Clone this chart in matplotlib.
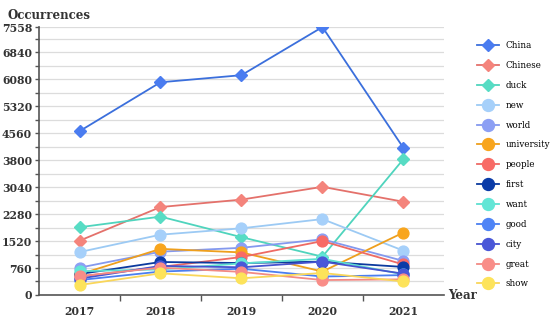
import numpy as np
import matplotlib.pyplot as plt
from matplotlib.ticker import MultipleLocator, FixedLocator

plt.rcParams['font.family'] = ['DejaVu Serif']

years = ["2017", "2018", "2019", "2020", "2021"]

china = [4620, 6000, 6200, 7558, 4150]
chinese = [1530, 2480, 2690, 3050, 2630]
duck = [1910, 2210, 1630, 1080, 3830]
new = [1210, 1700, 1880, 2140, 1250]
world = [770, 1220, 1330, 1570, 960]
university = [580, 1300, 1200, 660, 1760]
people = [520, 790, 1070, 1520, 860]
first = [590, 930, 900, 940, 790]
want = [670, 720, 890, 1020, 580]
good = [420, 660, 740, 520, 560]
city = [460, 820, 780, 940, 600]
great = [530, 770, 650, 420, 440]
show = [280, 610, 470, 620, 380]

words = ["China", "Chinese", "duck", "new", "world", "university", "people",
         "first", "want", "good", "city", "great", "show"]
series = [china, chinese, duck, new, world, university, people,
          first, want, good, city, great, show]
line_colors = ["#3b6fdc", "#e4716b", "#4fd4bd", "#9ccaf4", "#8499ee", "#ee9f1d",
               "#ee6a64", "#0b3a9e", "#5ddfd0", "#4b7ff0", "#4653cf", "#f28a84", "#f9d65a"]
face_colors = ["#4a7cf0", "#f4847c", "#57dcc4", "#a6d0fa", "#8c9ff4", "#f8a51d",
               "#f86b66", "#0a3ba8", "#62e6d6", "#4f84f6", "#4a57d8", "#f98d88", "#fde35a"]
markers = ["D", "D", "D"] + ["o"] * 10

y_labels = [0, 760, 1520, 2280, 3040, 3800, 4560, 5320, 6080, 6840, 7558]

fig = plt.figure(figsize=(5.5, 3.22), dpi=100)
ax = fig.add_axes([0.071, 0.084, 0.736, 0.832])

x = np.arange(len(years))
for name, vals, lc, fc, m in zip(words, series, line_colors, face_colors, markers):
    ms = 5.8 if m == "D" else 7.8
    ax.plot(x, vals, color=lc, lw=1.3, marker=m, ms=ms, mfc=fc, mec=fc, label=name)

ax.set_xlim(-0.5, 4.5)
ax.set_ylim(0, 7558)
ax.set_xticks(x)
ax.set_xticklabels(years, fontsize=7.8, fontweight="bold", color="#333333")
ax.xaxis.set_minor_locator(FixedLocator([0.5, 1.5, 2.5, 3.5]))
ax.tick_params(axis="x", which="major", length=0, pad=8)
ax.tick_params(axis="x", which="minor", length=4, width=1, color="#555555")

ax.set_yticks(y_labels)
ax.set_yticklabels([str(v) for v in y_labels], fontsize=7.8, fontweight="bold", color="#333333")
ax.yaxis.set_minor_locator(MultipleLocator(380))
ax.tick_params(axis="y", which="major", length=3, width=1, color="#555555", pad=2)
ax.tick_params(axis="y", which="minor", length=3, width=1, color="#555555")
ax.grid(axis="y", which="both", color="#dcdcdc", lw=0.9)
ax.set_axisbelow(True)

for s in ["top", "right"]:
    ax.spines[s].set_visible(False)
for s in ["left", "bottom"]:
    ax.spines[s].set_color("#555555")
    ax.spines[s].set_linewidth(1.2)

fig.text(0.013, 0.952, "Occurrences", fontsize=8.5, fontweight="bold", color="#333333", va="center")
fig.text(0.815, 0.081, "Year", fontsize=8.5, fontweight="bold", color="#333333", va="center")

ax.legend(loc="upper left", bbox_to_anchor=(0.868, 0.872), bbox_transform=fig.transFigure,
          frameon=False, fontsize=6.3, labelspacing=1.24, handlelength=2.5,
          handletextpad=0.7, borderaxespad=0, borderpad=0, markerscale=1.1)

plt.savefig("out.png", dpi=100)
